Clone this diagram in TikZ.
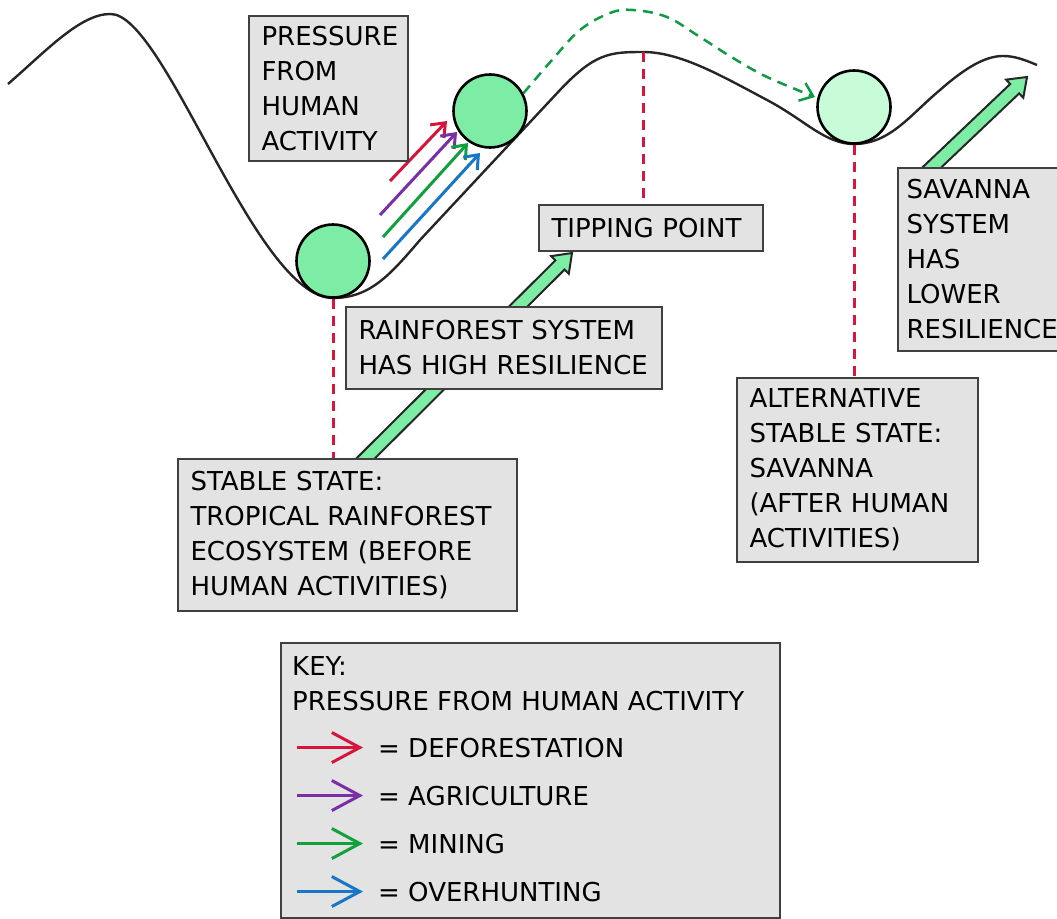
\documentclass[tikz,border=0pt]{standalone}
\usepackage{fontspec}
\setmainfont{DejaVu Sans}
\usetikzlibrary{arrows.meta,calc}
\definecolor{boxfill}{HTML}{E3E3E3}
\definecolor{boxline}{HTML}{404040}
\definecolor{ballgreen}{HTML}{7DEDA5}
\definecolor{balllight}{HTML}{C8FCD9}
\definecolor{cred}{HTML}{D7143C}
\definecolor{cpurple}{HTML}{7A2FA6}
\definecolor{cgreen}{HTML}{12A03E}
\definecolor{cblue}{HTML}{1777C6}
\definecolor{dgreen}{HTML}{119A45}
\definecolor{tipred}{HTML}{D5163F}
\pgfdeclarelayer{bg}
\pgfsetlayers{bg,main}
\newcommand\myfatarrow[2]{%
  \coordinate (#1-h) at ($(#2)!17pt!(#1)$);
  \filldraw[fat] ($(#1)!6.5pt!90:(#2)$) -- ($(#1-h)!6.5pt!-90:(#1)$) -- ($(#1-h)!12.5pt!-90:(#1)$) -- (#2) -- ($(#1-h)!12.5pt!90:(#1)$) -- ($(#1-h)!6.5pt!90:(#1)$) -- ($(#1)!6.5pt!-90:(#2)$) -- cycle;}
\begin{document}
\begin{tikzpicture}[x=1pt,y=-1pt,
  every node/.style={font=\fontsize{26}{35}\selectfont},
  infobox/.style={draw=boxline, fill=boxfill, line width=2pt, anchor=north west, align=left, inner xsep=12pt, inner ysep=0pt},
  ball/.style={circle, draw=black, line width=2.6pt, minimum size=73pt, inner sep=0pt},
  tipline/.style={draw=tipred, line width=3pt, dash pattern=on 10pt off 7pt},
  fat/.style={fill=ballgreen, draw=black!85, line width=2pt, line join=miter},
  press/.style={line width=3pt, -{Straight Barb[length=12pt,width=19pt,line width=3pt]}},
  keyarr/.style={line width=3pt, -{Straight Barb[length=28pt,width=30pt,line width=3pt]}},
  keytext/.style={anchor=base west, inner sep=0pt}
]
\useasboundingbox (0,0) rectangle (1057,918);

% boxes
\node[infobox, minimum width=159pt, minimum height=145pt, text width=134pt] (pbox) at (248,15) {PRESSURE\\FROM\\HUMAN\\ACTIVITY};
\node[infobox, minimum width=224pt, minimum height=46pt, text width=199pt] (tip) at (538,204) {TIPPING POINT};
\node[infobox, minimum width=316pt, minimum height=82pt, text width=291pt] (rain) at (345,306) {RAINFOREST SYSTEM\\HAS HIGH RESILIENCE};
\node[infobox, minimum width=339pt, minimum height=152pt, text width=314pt] (stable) at (177,458) {STABLE STATE:\\TROPICAL RAINFOREST\\ECOSYSTEM (BEFORE\\HUMAN ACTIVITIES)};
\node[infobox, minimum width=241pt, minimum height=184pt, text width=216pt] (alt) at (736,377) {ALTERNATIVE\\STABLE STATE:\\SAVANNA\\(AFTER HUMAN\\ACTIVITIES)};
\node[infobox, inner xsep=8pt, minimum width=160pt, minimum height=183pt, text width=143pt] (sav) at (897,167) {SAVANNA\\SYSTEM\\HAS\\LOWER\\RESILIENCE};

% balls
\node[ball, fill=ballgreen] (c1) at (333,261) {};
\node[ball, fill=ballgreen] (c2) at (490,111) {};
\node[ball, fill=balllight] (c3) at (854,107) {};

% key
\node[infobox, minimum width=499pt, minimum height=275pt] (keybox) at (280,642) {};
\node[keytext] (khead) at (292,675) {KEY:};
\node[keytext] (kpress) at (292,710) {PRESSURE FROM HUMAN ACTIVITY};
\node[keytext] (k1) at (378,757) {= DEFORESTATION};
\node[keytext] (k2) at (378,805) {= AGRICULTURE};
\node[keytext] (k3) at (378,853) {= MINING};
\node[keytext] (k4) at (378,901) {= OVERHUNTING};
\draw[keyarr, cred] ([xshift=-81pt]k1.west) -- ([xshift=-15pt]k1.west);
\draw[keyarr, cpurple] ([xshift=-81pt]k2.west) -- ([xshift=-15pt]k2.west);
\draw[keyarr, cgreen] ([xshift=-81pt]k3.west) -- ([xshift=-15pt]k3.west);
\draw[keyarr, cblue] ([xshift=-81pt]k4.west) -- ([xshift=-15pt]k4.west);

\begin{pgfonlayer}{bg}
% landscape curve
\coordinate (peak) at (643,52);
\draw[line width=2.4pt, line join=round, black!85]
  (8,84) .. controls (45,52) and (80,14) .. (110,14)
  .. controls (165,12) and (255,298) .. (333,298)
  .. controls (370,298) and (390,275) .. (420,240)
  -- (560,90)
  .. controls (595,53) and (610,52) .. (peak)
  .. controls (680,52) and (720,75) .. (767,100)
  .. controls (805,120) and (825,144) .. (854,144)
  .. controls (890,144) and (910,115) .. (940,90)
  .. controls (965,68) and (985,56) .. (1003,56)
  .. controls (1015,56) and (1025,60) .. (1037,65);
% red dashed lines
\draw[tipline] (c1.south) -- (c1.south |- stable.north);
\draw[tipline] (peak) -- (peak |- tip.north);
\draw[tipline] (c3.south) -- (c3.south |- alt.north);
% green dashed transition
\draw[dgreen, line width=2.5pt, dash pattern=on 10pt off 7pt, -{Straight Barb[length=12pt,width=19pt,line width=2.5pt]}]
  plot[smooth, tension=0.6] coordinates {(c2.28) (552,60) (580,30) (610,13) (633,10) (667,17) (700,37) (733,58) (767,77) (815,97)};
% fat arrows
\coordinate (ga1) at (360,464);
\coordinate (ga2) at (572,253);
\myfatarrow{ga1}{ga2}
\coordinate (sa1) at (927,172);
\coordinate (sa2) at (1027,77);
\myfatarrow{sa1}{sa2}
% pressure arrows
\coordinate (r1) at (390,181); \coordinate (r2) at (447,121);
\coordinate (p1) at (380,215); \coordinate (p2) at (457,132);
\coordinate (g1) at (383,237); \coordinate (g2) at (468,143);
\coordinate (b1) at (383,259); \coordinate (b2) at (480,153);
\draw[press, cred] (r1) -- (r2);
\draw[press, cpurple] (p1) -- (p2);
\draw[press, cgreen] (g1) -- (g2);
\draw[press, cblue] (b1) -- (b2);
\end{pgfonlayer}
\end{tikzpicture}
\end{document}
